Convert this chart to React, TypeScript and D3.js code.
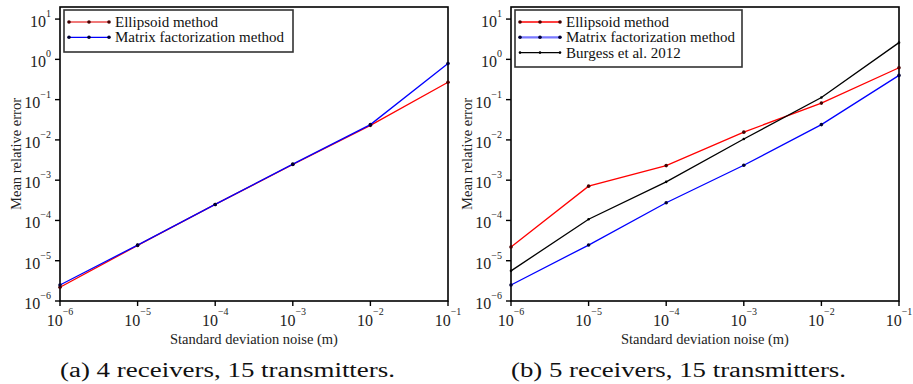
import React from "react";
import * as d3 from "d3";

const noise = [1e-6, 1e-5, 1e-4, 1e-3, 1e-2, 1e-1];
const xTickExps = [-6, -5, -4, -3, -2, -1];
const yTickExps = [1, 0, -1, -2, -3, -4, -5, -6];

const aEllipsoid = [2.2e-6, 2.4e-5, 2.5e-4, 2.45e-3, 2.3e-2, 0.27];
const aMatrix = [2.5e-6, 2.45e-5, 2.5e-4, 2.5e-3, 2.4e-2, 0.79];

const bEllipsoid = [2.2e-5, 7.1e-4, 2.3e-3, 1.56e-2, 8.2e-2, 0.62];
const bMatrix = [2.5e-6, 2.45e-5, 2.75e-4, 2.35e-3, 2.4e-2, 0.4];
const bBurgess = [5.6e-6, 1.07e-4, 9.1e-4, 1.05e-2, 0.113, 2.6];

const xLabel = "Standard deviation noise (m)";
const yLabel = "Mean relative error";
const captionA = "(a) 4 receivers, 15 transmitters.";
const captionB = "(b) 5 receivers, 15 transmitters.";

type Series = { name: string; values: number[]; color: string; legendColor: string; legendWidth: number; marker: string; r: number };

const FONT = "'Liberation Serif', 'Times New Roman', serif";

function Panel({ left, series, legendW, caption }: { left: number; series: Series[]; legendW: number; caption: string }) {
  const x0 = left;
  const x1 = left + 388;
  const yTop = 7;
  const yBot = 301;
  const x = d3.scaleLog().domain([1e-6, 1e-1]).range([x0, x1]);
  const y = d3.scaleLog().domain([1e-6, Math.pow(10, 1.3)]).range([yBot, yTop]);
  const line = d3
    .line<number>()
    .x((_, i) => x(noise[i]))
    .y((d) => y(d));
  const subW = 455;
  const subLeft = left - 60;
  const lgX = x0 + 4;
  const lgY = 10;
  const lgH = 10 + series.length * 15 + 2;
  return (
    <g>
      <rect x={x0} y={yTop} width={x1 - x0} height={yBot - yTop} fill="none" stroke="#000" strokeWidth={1.6} />
      {yTickExps.map((e) => {
        const yy = y(Math.pow(10, e));
        return (
          <g key={"y" + e}>
            <line x1={x0 - 5} x2={x0} y1={yy} y2={yy} stroke="#000" strokeWidth={1.4} />
            <text x={x0 - 9} y={yy + 8} textAnchor="end" fontFamily={FONT} fontSize={16} fill="#222">
              10
              <tspan fontSize={10} dy={-10}>
                {e < 0 ? "\u2212" + -e : String(e)}
              </tspan>
            </text>
          </g>
        );
      })}
      {xTickExps.map((e) => {
        const xx = x(Math.pow(10, e));
        return (
          <g key={"x" + e}>
            <line x1={xx} x2={xx} y1={yBot} y2={yBot + 5} stroke="#000" strokeWidth={1.4} />
            <text x={xx} y={yBot + 25} textAnchor="middle" fontFamily={FONT} fontSize={16} fill="#222">
              10
              <tspan fontSize={10} dy={-11}>
                {"\u2212" + -e}
              </tspan>
            </text>
          </g>
        );
      })}
      <text x={(x0 + x1) / 2} y={344} textAnchor="middle" fontFamily={FONT} fontSize={14.5} fill="#222">
        {xLabel}
      </text>
      <text
        transform={`translate(${subLeft + 21},${(yTop + yBot) / 2}) rotate(-90)`}
        textAnchor="middle"
        fontFamily={FONT}
        fontSize={14.5}
        fill="#222"
      >
        {yLabel}
      </text>
      {series.map((s) => (
        <g key={s.name}>
          <path d={line(s.values) || ""} fill="none" stroke={s.color} strokeWidth={1.3} />
          {s.values.map((v, i) => (
            <circle key={i} cx={x(noise[i])} cy={y(v)} r={s.r} fill={s.marker} />
          ))}
        </g>
      ))}
      <rect x={lgX} y={lgY} width={legendW} height={lgH} fill="#fff" stroke="#333" strokeWidth={1.6} />
      {series.map((s, i) => {
        const ly = lgY + 12 + i * 15.3;
        const lx0 = lgX + 5;
        return (
          <g key={"lg" + s.name}>
            <line x1={lx0} x2={lx0 + 40} y1={ly} y2={ly} stroke={s.legendColor} strokeWidth={s.legendWidth} />
            {[0, 20, 40].map((dx) => (
              <circle key={dx} cx={lx0 + dx} cy={ly} r={s.r} fill={s.marker} />
            ))}
            <text x={lx0 + 46} y={ly + 5} fontFamily={FONT} fontSize={15} fill="#111">
              {s.name}
            </text>
          </g>
        );
      })}
      <text
        x={subLeft + subW / 2}
        y={377}
        textAnchor="middle"
        fontFamily={FONT}
        fontSize={20}
        fill="#111"
        textLength={335}
        lengthAdjust="spacingAndGlyphs"
      >
        {caption}
      </text>
    </g>
  );
}

export default function App() {
  const left: Series[] = [
    { name: "Ellipsoid method", values: aEllipsoid, color: "#ff0000", legendColor: "#f07878", legendWidth: 2.2, marker: "#400", r: 1.8 },
    { name: "Matrix factorization method", values: aMatrix, color: "#0000ff", legendColor: "#0000ff", legendWidth: 1.3, marker: "#003", r: 1.8 },
  ];
  const right: Series[] = [
    { name: "Ellipsoid method", values: bEllipsoid, color: "#ff0000", legendColor: "#ff0000", legendWidth: 1.3, marker: "#400", r: 1.8 },
    { name: "Matrix factorization method", values: bMatrix, color: "#0000ff", legendColor: "#7878ff", legendWidth: 2.2, marker: "#003", r: 1.8 },
    { name: "Burgess et al. 2012", values: bBurgess, color: "#000", legendColor: "#000", legendWidth: 1.2, marker: "#000", r: 1.3 },
  ];
  return (
    <svg width={913} height={384} style={{ position: "absolute", left: 0, top: 0, background: "#fff" }}>
      <rect width={913} height={384} fill="#fff" />
      <Panel left={60} series={left} legendW={229} caption={captionA} />
      <Panel left={511} series={right} legendW={227} caption={captionB} />
    </svg>
  );
}
